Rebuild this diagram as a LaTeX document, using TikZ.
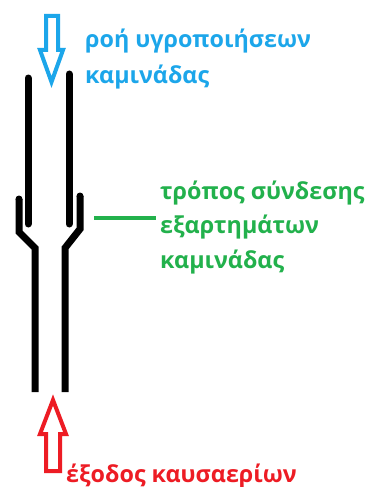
\documentclass[tikz,border=0pt]{standalone}
\usepackage{fontspec}
\setmainfont{Open Sans}
\definecolor{pblue}{HTML}{1CA6EA}
\definecolor{pgreen}{HTML}{22B14C}
\definecolor{pred}{HTML}{ED1C24}
\tikzset{
 flue/.style={draw=black,line width=7pt,line join=miter},
 flueup/.style={flue,line cap=round},
 arrowline/.style={line width=4pt,line join=miter},
 lbl/.style={anchor=base west,inner sep=0pt,font=\fontsize{23.3pt}{24pt}\selectfont\bfseries}
}
\begin{document}
\begin{tikzpicture}[x=1pt,y=-1pt]
\useasboundingbox (0,0) rectangle (366,487);
\fill[white] (0,0) rectangle (366,487);
\coordinate (lu1) at (28,78); \coordinate (lu2) at (28,224);
\coordinate (ru1) at (69,74); \coordinate (ru2) at (69,224);
\draw[flueup] (lu1) -- (lu2);
\draw[flueup] (ru1) -- (ru2);
\coordinate (ls) at (19,199); \coordinate (lk1) at (19,232); \coordinate (lk2) at (35,248); \coordinate (le) at (35,392);
\coordinate (rs) at (80,196); \coordinate (rk1) at (80,229); \coordinate (rk2) at (65,248); \coordinate (re) at (65,392);
\draw[flue] (ls) -- (lk1) -- (lk2) -- (le);
\draw[flue] (rs) -- (rk1) -- (rk2) -- (re);
\fill (19,199) circle (3.5pt); \fill (80,196) circle (3.5pt);
\draw[pblue,arrowline] (46,16) -- (58,16) -- (58,50) -- (63,50) -- (51.5,82) -- (40,50) -- (46,50) -- cycle;
\draw[pred,arrowline] (53,400) -- (66,434) -- (60,434) -- (60,471) -- (46,471) -- (46,434) -- (40,434) -- cycle;
\coordinate (g1) at (94,218); \coordinate (g2) at (156,218);
\draw[pgreen,line width=4pt] (g1) -- (g2);
\node[lbl,text=pblue] (t1) at (85,48) {ροή υγροποιήσεων};
\node[lbl,text=pblue] (t2) at (85,83) {καμινάδας};
\node[lbl,text=pgreen] (t3) at (160,199) {τρόπος σύνδεσης};
\node[lbl,text=pgreen] (t4) at (160,233) {εξαρτημάτων};
\node[lbl,text=pgreen] (t5) at (160,268) {καμινάδας};
\node[lbl,text=pred] (t6) at (66,482) {έξοδος καυσαερίων};
\end{tikzpicture}
\end{document}
